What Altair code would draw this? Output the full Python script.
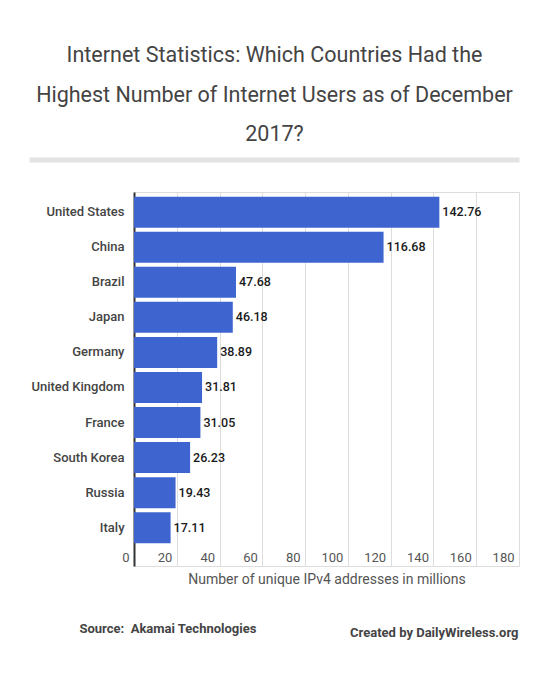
import altair as alt
import pandas as pd

# IPv4 address counts (millions), December 2017
countries = ["United States", "China", "Brazil", "Japan", "Germany",
             "United Kingdom", "France", "South Korea", "Russia", "Italy"]
ipv4_millions = [142.76, 116.68, 47.68, 46.18, 38.89, 31.81, 31.05, 26.23, 19.43, 17.11]
x_ticks = [0, 20, 40, 60, 80, 100, 120, 140, 160, 180]

title_lines = [
    "Internet Statistics: Which Countries Had the",
    "Highest Number of Internet Users as of December",
    "2017?",
]
source_text = "Source:\u00a0 Akamai Technologies"
credit_text = "Created by DailyWireless.org"

FONT = "Roboto"
W, H = 385, 374

df = pd.DataFrame({"country": countries, "value": ipv4_millions})

y_enc = alt.Y(
    "country:N",
    sort=countries,
    scale=alt.Scale(paddingInner=0.115, paddingOuter=0.391, align=0.17),
    axis=alt.Axis(
        title=None, ticks=False, domain=True, domainColor="#333333", domainWidth=2,
        labelFont=FONT, labelFontSize=13, labelFontWeight=500, labelColor="#444444",
        labelPadding=10, grid=False,
    ),
)
x_enc = alt.X(
    "value:Q",
    scale=alt.Scale(domain=[0, 180], nice=False),
    axis=alt.Axis(
        values=x_ticks, format="d", title="Number of unique IPv4 addresses in millions",
        titleFont=FONT, titleFontSize=14, titleFontWeight="normal", titleColor="#555555",
        titleY=13, titleBaseline="middle",
        labelFont=FONT, labelFontSize=13, labelColor="#555555",
        labelAlign="right", labelOffset=-5, labelBaseline="middle", labelPadding=-9,
        ticks=False, domain=False, grid=True, gridColor="#dddddd", gridWidth=1,
    ),
)

bars = alt.Chart(df).mark_bar(color="#3e64d0").encode(x=x_enc, y=y_enc)

labels = alt.Chart(df).mark_text(
    align="left", baseline="middle", dx=3, font=FONT, fontSize=12.5,
    fontWeight=500, color="#1a1a1a",
).encode(x="value:Q", y=alt.Y("country:N", sort=countries), text=alt.Text("value:Q", format=".2f"))

# Title lines stacked with a fixed line spacing
title_df = pd.DataFrame({"line": title_lines, "row": [0, 1, 2]})
title = alt.Chart(title_df).transform_calculate(
    py="-136 + datum.row * 39.5"
).mark_text(
    align="center", baseline="middle", font=FONT, fontSize=21.5, color="#444444",
).encode(
    x=alt.value(140.5),
    y=alt.Y("py:Q", scale=None),
    text="line:N",
)

separator = alt.Chart(pd.DataFrame({"a": [0]})).mark_rule(
    color="#e3e3e3", strokeWidth=5
).encode(x=alt.value(-104.5), x2=alt.value(385.5), y=alt.value(-32))

source = alt.Chart(pd.DataFrame({"t": [source_text]})).mark_text(
    align="left", baseline="middle", font=FONT, fontSize=13, fontWeight="bold", color="#444444",
).encode(x=alt.value(-54.5), y=alt.value(437), text="t:N")

credit = alt.Chart(pd.DataFrame({"t": [credit_text]})).mark_text(
    align="right", baseline="middle", font=FONT, fontSize=13, fontWeight="bold", color="#444444",
).encode(x=alt.value(384.5), y=alt.value(441), text="t:N")

chart = alt.layer(bars, labels, title, separator, source, credit).properties(
    width=W, height=H,
    autosize=alt.AutoSizeParams(type="none"),
    padding={"left": 134, "top": 192, "right": 550 - 134 - W, "bottom": 697 - 192 - H},
).configure_view(stroke=None).configure(background="white")

chart.save("out.html", embed_options={"renderer": "svg", "actions": False})
